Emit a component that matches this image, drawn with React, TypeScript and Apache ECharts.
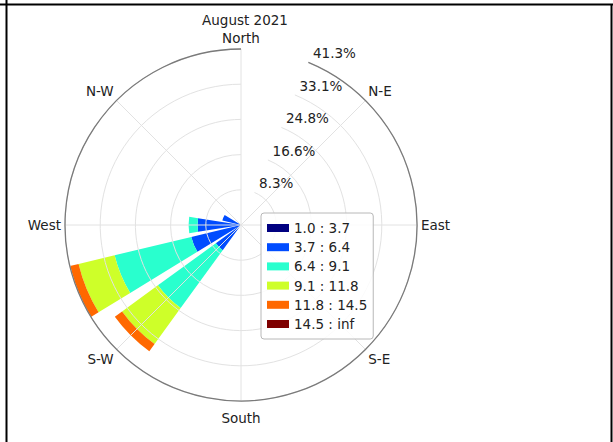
import React, { useEffect, useRef } from "react";
import * as echarts from "echarts";

// 16 compass sectors, in drawing order (clockwise, starting at NNE)
const directions = ["NNE", "NE", "ENE", "E", "ESE", "SE", "SSE", "S", "SSW", "SW", "WSW", "W", "WNW", "NW", "NNW", "N"];
const directionLabels: Record<string, string> = {
  N: "North", NE: "N-E", E: "East", SE: "S-E", S: "South", SW: "S-W", W: "West", NW: "N-W",
};

// wind speed bins (legend)
const binNames = ["1.0 : 3.7", "3.7 : 6.4", "6.4 : 9.1", "9.1 : 11.8", "11.8 : 14.5", "14.5 : inf"];
const binColors = ["#000080", "#004cff", "#29ffce", "#ceff29", "#ff6800", "#7f0000"];

// frequency (%) of each bin per direction, same order as `directions`
const bin1 = [0, 0, 0, 0, 0, 0, 0, 0, 0, 0.3, 0.3, 0.3, 0.3, 0, 0, 0];
const bin2 = [0, 0, 0, 0, 0, 0, 0, 0, 0, 7.0, 11.7, 9.9, 4.2, 0, 0, 0];
const bin3 = [0, 0, 0, 0, 0, 0, 0, 0, 0, 16.8, 18.5, 2.1, 0, 0, 0, 0];
const bin4 = [0, 0, 0, 0, 0, 0, 0, 0, 0, 10.4, 8.7, 0, 0, 0, 0, 0];
const bin5 = [0, 0, 0, 0, 0, 0, 0, 0, 0, 2.1, 2.1, 0, 0, 0, 0, 0];
const bin6 = [0, 0, 0, 0, 0, 0, 0, 0, 0, 0, 0, 0, 0, 0, 0, 0];
const bins = [bin1, bin2, bin3, bin4, bin5, bin6];

// radial tick labels
const radialTickLabels = ["8.3%", "16.6%", "24.8%", "33.1%", "41.3%"];
const radialMax = 41.3;
const chartTitle = "August 2021";

const FONT = "DejaVu Sans";
const FS = 13.5;

export default function App() {
  const ref = useRef<HTMLDivElement>(null);

  useEffect(() => {
    document.body.style.margin = "0";
    if (!ref.current) return;
    const chart = echarts.init(ref.current, null, { renderer: "svg" });
    const step = radialMax / radialTickLabels.length;
    const angleData = directions.map((d) =>
      d === "S" ? { value: d, textStyle: { padding: [6, 0, 0, 0] } } : d
    );
    const option: any = {
      animation: false,
      backgroundColor: "#ffffff",
      textStyle: { fontFamily: FONT },
      title: {
        text: chartTitle,
        left: 240,
        top: 8,
        textAlign: "center",
        textStyle: { fontSize: FS, fontWeight: "normal", color: "#222", fontFamily: FONT },
      },
      polar: { center: [241, 225], radius: 176 },
      angleAxis: {
        type: "category",
        data: angleData,
        startAngle: 67.5,
        clockwise: true,
        boundaryGap: false,
        z: 3,
        axisLine: { show: true, lineStyle: { color: "#7a7a7a", width: 1.3 } },
        axisTick: { show: false, interval: (i: number) => i % 2 === 1 },
        axisLabel: {
          interval: (i: number) => i % 2 === 1,
          formatter: (v: string) => directionLabels[v] ?? "",
          margin: 4,
          color: "#222",
          fontSize: FS,
          fontFamily: FONT,
        },
        splitLine: {
          show: true,
          interval: (i: number) => i % 2 === 1,
          lineStyle: { color: "#e2e2e2", width: 1 },
        },
      },
      radiusAxis: {
        type: "value",
        min: 0,
        max: radialMax,
        interval: step,
        z: 3,
        axisLine: { show: false },
        axisTick: { show: false },
        axisLabel: {
          formatter: (v: number) => {
            const i = Math.round(v / step) - 1;
            return i >= 0 && i < radialTickLabels.length ? radialTickLabels[i] : "";
          },
          margin: -5,
          align: "left",
          verticalAlign: "bottom",
          padding: [0, 0, 4, 0],
          color: "#222",
          fontSize: FS,
          fontFamily: FONT,
        },
        splitLine: { show: true, lineStyle: { color: "#e2e2e2", width: 1 } },
      },
      legend: {
        orient: "vertical",
        left: 261,
        top: 213,
        data: binNames,
        icon: "rect",
        itemWidth: 22,
        itemHeight: 8,
        itemGap: 5.2,
        padding: [8, 6, 8, 6],
        backgroundColor: "rgba(255,255,255,0.85)",
        borderColor: "#b8b8b8",
        borderWidth: 1,
        borderRadius: 3,
        textStyle: { fontSize: FS, lineHeight: 14, color: "#222", fontFamily: FONT },
      },
      graphic: [
        { type: "line", shape: { x1: 6.5, y1: 0, x2: 6.5, y2: 442 }, style: { stroke: "#000", lineWidth: 2 } },
        { type: "line", shape: { x1: 0, y1: 4.5, x2: 613, y2: 4.5 }, style: { stroke: "#000", lineWidth: 2 } },
        { type: "line", shape: { x1: 611.5, y1: 4, x2: 611.5, y2: 442 }, style: { stroke: "#000", lineWidth: 2 } },
      ],
      series: bins.map((data, i) => ({
        type: "bar",
        coordinateSystem: "polar",
        name: binNames[i],
        stack: "total",
        data,
        barWidth: "80%",
        z: 2,
        itemStyle: { color: binColors[i] },
      })),
    };
    chart.setOption(option);
    return () => chart.dispose();
  }, []);

  return <div ref={ref} style={{ width: 613, height: 442 }} />;
}
